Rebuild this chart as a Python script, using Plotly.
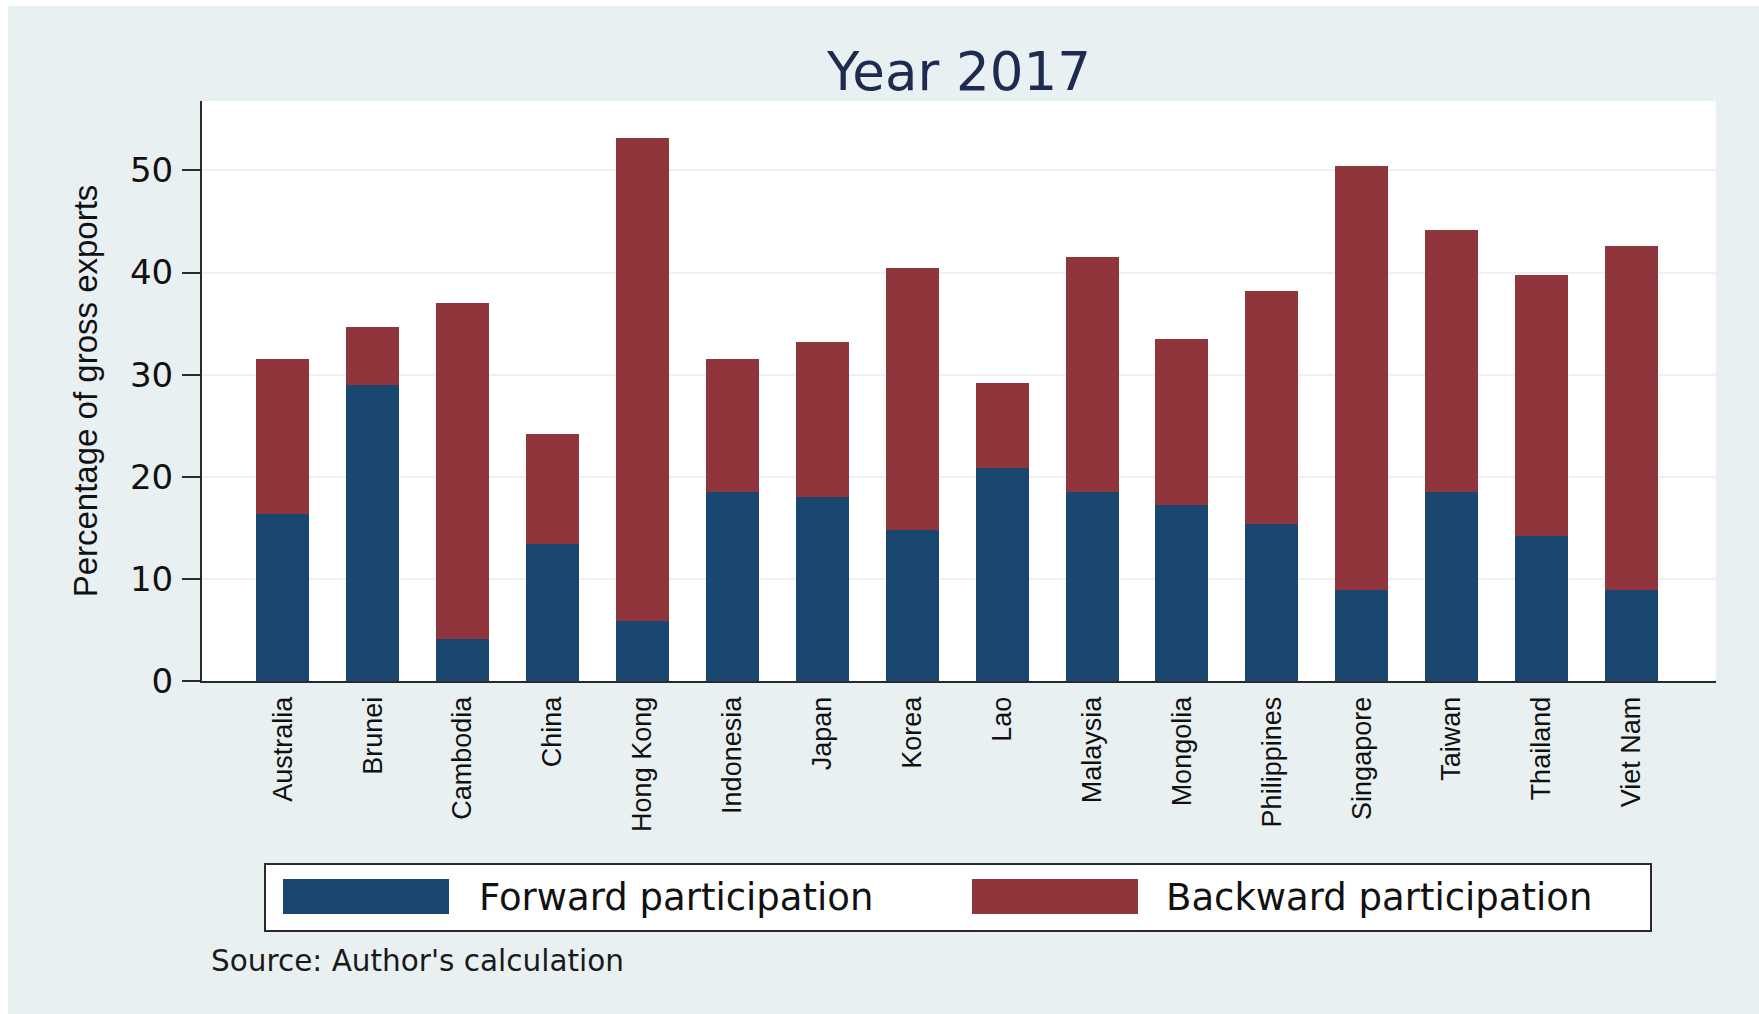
import plotly.graph_objects as go

countries = ["Australia", "Brunei", "Cambodia", "China", "Hong Kong", "Indonesia",
             "Japan", "Korea", "Lao", "Malaysia", "Mongolia", "Philippines",
             "Singapore", "Taiwan", "Thailand", "Viet Nam"]
forward = [16.4, 29.0, 4.1, 13.4, 5.9, 18.5, 18.0, 14.8, 20.9, 18.5, 17.2, 15.4, 8.9, 18.5, 14.2, 8.9]
backward = [15.1, 5.7, 32.9, 10.8, 47.3, 13.0, 15.2, 25.6, 8.3, 23.0, 16.3, 22.8, 41.5, 25.7, 25.6, 33.7]
y_ticks = [0, 10, 20, 30, 40, 50]
series_names = ["Forward participation", "Backward participation"]

FWD_COLOR = "#1A476F"
BWD_COLOR = "#90353B"
BG = "#E9F0F2"

W_FIG, H_FIG = 1759, 1014
L, R, T, B = 202, 1716, 101, 681
PW, PH = R - L, B - T


def px(x):
    return (x - L) / PW


def py(y):
    return (B - y) / PH


fig = go.Figure()
fig.add_trace(go.Bar(x=countries, y=forward, name=series_names[0],
                     marker=dict(color=FWD_COLOR, line=dict(width=0))))
fig.add_trace(go.Bar(x=countries, y=backward, name=series_names[1],
                     marker=dict(color=BWD_COLOR, line=dict(width=0))))

shapes = [
    # white border strips (left and top)
    dict(type="rect", xref="paper", yref="paper", x0=px(0), x1=px(8), y0=py(W_FIG), y1=py(0),
         fillcolor="white", line=dict(width=0), layer="below"),
    dict(type="rect", xref="paper", yref="paper", x0=px(0), x1=px(W_FIG), y0=py(6), y1=py(0),
         fillcolor="white", line=dict(width=0), layer="below"),
    # legend box
    dict(type="rect", xref="paper", yref="paper", x0=px(265), x1=px(1651), y0=py(931), y1=py(864),
         fillcolor="white", line=dict(color="#2a2a2a", width=2)),
    dict(type="rect", xref="paper", yref="paper", x0=px(283), x1=px(449), y0=py(914), y1=py(879),
         fillcolor=FWD_COLOR, line=dict(width=0)),
    dict(type="rect", xref="paper", yref="paper", x0=px(972), x1=px(1138), y0=py(914), y1=py(879),
         fillcolor=BWD_COLOR, line=dict(width=0)),
]

annotations = [
    dict(text=series_names[0], xref="paper", yref="paper", x=px(477), y=py(897),
         xanchor="left", yanchor="middle", showarrow=False,
         font=dict(family="DejaVu Sans", size=37, color="#111111")),
    dict(text=series_names[1], xref="paper", yref="paper", x=px(1164), y=py(897),
         xanchor="left", yanchor="middle", showarrow=False,
         font=dict(family="DejaVu Sans", size=37, color="#111111")),
    dict(text="Source: Author's calculation", xref="paper", yref="paper", x=px(209), y=py(961),
         xanchor="left", yanchor="middle", showarrow=False,
         font=dict(family="DejaVu Sans", size=29.5, color="#1a1a1a")),
]

fig.update_layout(
    width=W_FIG, height=H_FIG,
    margin=dict(l=L, r=W_FIG - R, t=T, b=H_FIG - B, pad=0),
    paper_bgcolor=BG, plot_bgcolor="white",
    barmode="stack", bargap=0.41,
    showlegend=False,
    title=dict(text="Year 2017", x=0.5, xref="paper", xanchor="center",
               y=(H_FIG - 71) / H_FIG, yref="container", yanchor="middle",
               font=dict(family="DejaVu Sans", size=53, color="#1C2B4F")),
    xaxis=dict(range=[-0.9, 15.94], showline=True, linecolor="#2a2a2a", linewidth=2,
               tickangle=-90, ticks="", ticklabelstandoff=3,
               tickfont=dict(family="Liberation Sans, Arial", size=27, color="#111111"),
               showgrid=False, fixedrange=True),
    yaxis=dict(range=[0, 56.8], tickvals=y_ticks, showline=True, linecolor="#2a2a2a", linewidth=2,
               ticks="outside", ticklen=18, tickwidth=1.5, tickcolor="#2a2a2a",
               ticklabelstandoff=2,
               tickfont=dict(family="DejaVu Sans", size=34, color="#111111"),
               showgrid=True, gridcolor="#EDF1F3", gridwidth=2, zeroline=False,
               title=dict(text="Percentage of gross exports", standoff=22,
                          font=dict(family="Liberation Sans, Arial", size=33, color="#111111"))),
    shapes=shapes,
    annotations=annotations,
)

fig.write_html("out.html", config={"displayModeBar": False},
               post_script="document.body.style.margin='0';")
